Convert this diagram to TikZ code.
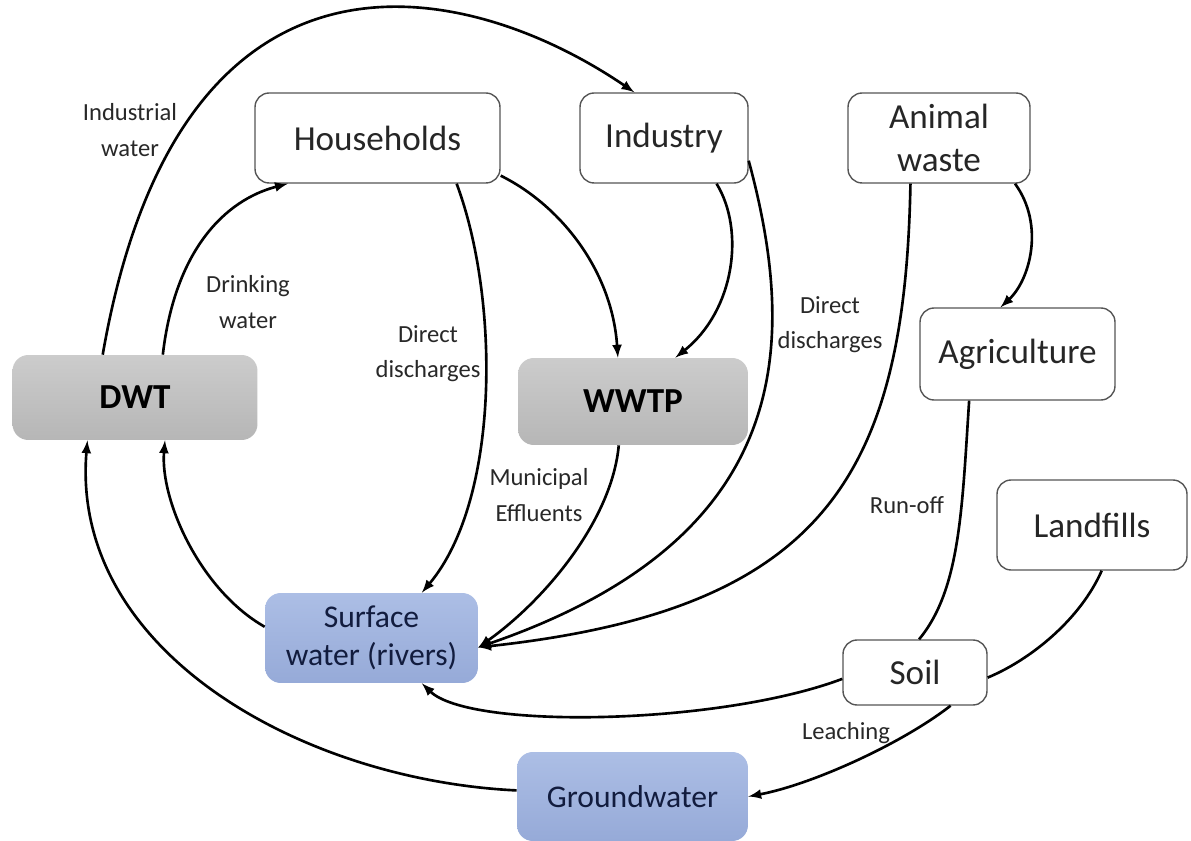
\documentclass[tikz,border=0pt]{standalone}
\usepackage{fontspec}
\setmainfont{Carlito}
\definecolor{boxline}{RGB}{85,85,85}
\definecolor{graytop}{RGB}{204,204,204}
\definecolor{graybot}{RGB}{182,182,182}
\definecolor{bluetop}{RGB}{172,190,229}
\definecolor{bluebot}{RGB}{150,170,216}
\definecolor{navytext}{RGB}{18,28,62}
\definecolor{flowgray}{RGB}{40,40,40}
\tikzset{
  >=latex,
}
\tikzstyle{unit}=[draw=boxline,line width=0.8pt,rounded corners=8pt,fill=white,
  inner sep=0pt,align=center,text=black!85,font=\fontsize{20}{24}\selectfont]
\tikzstyle{plant}=[rounded corners=9pt,top color=graytop,bottom color=graybot,
  inner sep=0pt,align=center,text=black,font=\fontsize{20}{24}\selectfont\bfseries]
\tikzstyle{waterbody}=[rounded corners=9pt,top color=bluetop,bottom color=bluebot,
  inner sep=0pt,align=center,text=navytext,font=\fontsize{18}{22}\selectfont]
\tikzstyle{flow}=[line width=1.5pt,black]
\tikzstyle{flowtext}=[font=\fontsize{14}{20}\selectfont,text=flowgray,align=center]

\begin{document}
\begin{tikzpicture}[x=0.02cm,y=-0.02cm]
  \path[use as bounding box,fill=white] (0,0) rectangle (1191,841);

  \node[unit,minimum width=4.9cm,minimum height=1.8cm] (hh) at (377.5,138) {Households};
  \node[unit,minimum width=3.36cm,minimum height=1.8cm] (ind) at (664,138) {Industry};
  \node[unit,minimum width=3.64cm,minimum height=1.8cm] (anw) at (939,138) {Animal\\waste};
  \node[unit,minimum width=3.9cm,minimum height=1.84cm] (agr) at (1017.5,354) {Agriculture};
  \node[plant,minimum width=4.9cm,minimum height=1.7cm] (dwt) at (135,397.5) {DWT};
  \node[plant,minimum width=4.6cm,minimum height=1.74cm] (wwtp) at (633,401.5) {WWTP};
  \node[unit,minimum width=3.8cm,minimum height=1.8cm] (land) at (1092,525) {Landfills};
  \node[waterbody,minimum width=4.26cm,minimum height=1.8cm] (sw) at (371.5,638) {Surface\\water (rivers)};
  \node[unit,minimum width=2.88cm,minimum height=1.3cm] (soil) at (915,672.5) {Soil};
  \node[waterbody,minimum width=4.62cm,minimum height=1.78cm] (gw) at (632.5,796.5) {Groundwater};

  \draw[flow,->] (dwt.127) .. controls (180,-90) and (470,-20) .. (ind.123);
  \draw[flow,->] (dwt.57) .. controls (175,250) and (225,200) .. (hh.207);
  \draw[flow,->] (hh.330) .. controls (500,300) and (500,500) .. (sw.42);
  \draw[flow,->] (hh.343) .. controls (560,205) and (612,270) .. (wwtp.109);
  \draw[flow,->] (ind.319) .. controls (745,230) and (735,310) .. (wwtp.46);
  \draw[flow,->] (ind.345) .. controls (800,350) and (790,540) .. (sw.355);
  \draw[flow,->] (anw.238) .. controls (905,480) and (820,610) .. (sw.355);
  \draw[flow,->] (wwtp.252) .. controls (612,520) and (545,600) .. (sw.355);
  \draw[flow,->] (anw.329) .. controls (1045,225) and (1030,280) .. (agr.110);
  \draw[flow] (agr.224) .. controls (962,510) and (960,590) .. (soil.83);
  \draw[flow] (land.282) .. controls (1080,620) and (1030,660) .. (soil.356);
  \draw[flow,->] (soil.185) .. controls (720,725) and (470,730) .. (sw.318);
  \draw[flow,->] (soil.317) .. controls (900,745) and (810,785) .. (gw.east);
  \draw[flow,->] (sw.174) .. controls (200,590) and (160,500) .. (dwt.305);
  \draw[flow,->] (gw.177) .. controls (300,780) and (70,650) .. (dwt.222);

  \node[flowtext] (iw) at (130,130) {Industrial\\water};
  \node[flowtext] (dw) at (248,302) {Drinking\\water};
  \node[flowtext] (dd1) at (428,354) {Direct\\discharges};
  \node[flowtext] (dd2) at (830,325) {Direct\\discharges};
  \node[flowtext] (me) at (539,495) {Municipal\\Effluents};
  \node[flowtext] (ro) at (907,505) {Run-off};
  \node[flowtext] (lea) at (846,733) {Leaching};
\end{tikzpicture}
\end{document}
